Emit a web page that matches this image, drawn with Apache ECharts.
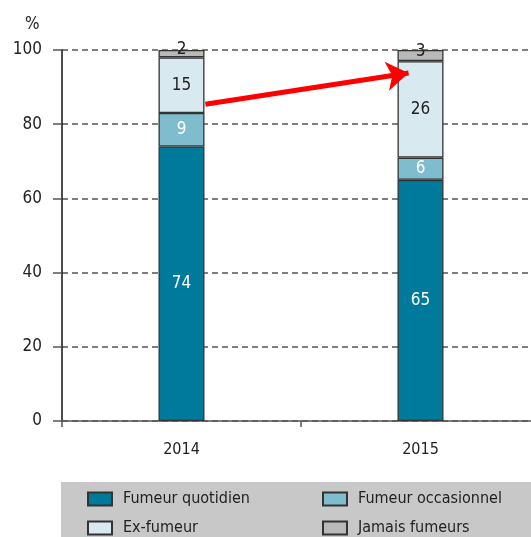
<!DOCTYPE html>
<html>
<head>
<meta charset="utf-8">
<script src="https://cdn.jsdelivr.net/npm/echarts@6/dist/echarts.min.js"></script>
<style>
  html, body { margin: 0; padding: 0; background: #fff; }
  #main { width: 531px; height: 537px; }
</style>
</head>
<body>
<div id="main"></div>
<script>
// données
var years = ['2014', '2015'];
var quotidien = [74, 65];
var occasionnel = [9, 6];
var exFumeur = [15, 26];
var jamais = [2, 3];
var yTicks = [0, 20, 40, 60, 80, 100];

var FONT = '"DejaVu Sans Condensed", "Liberation Sans Narrow", sans-serif';
var chart = echarts.init(document.getElementById('main'));

function seg(name, data, color, labelColor, offY) {
  return {
    name: name,
    type: 'bar',
    stack: 'total',
    barWidth: 46,
    data: data,
    itemStyle: { color: color, borderColor: '#333', borderWidth: 1.3 },
    label: {
      show: true,
      position: 'inside',
      offset: [0, offY || 0],
      color: labelColor,
      fontFamily: FONT,
      fontSize: 17
    },
    emphasis: { disabled: true }
  };
}

// une légende par entrée, pour garder la grille 2x2
function legendItem(left, top, name) {
  return {
    left: left, top: top, padding: 0,
    icon: 'rect',
    itemWidth: 24, itemHeight: 13,
    data: [name],
    textStyle: { fontFamily: FONT, fontSize: 16, color: '#222', padding: [0, 0, 0, 6] }
  };
}

var option = {
  animation: false,
  textStyle: { fontFamily: FONT },
  title: {
    text: '%', left: 20, top: 11,
    textStyle: { fontFamily: FONT, fontSize: 17, fontWeight: 'normal', color: '#222' }
  },
  graphic: [{
    type: 'rect',
    left: 61, top: 482,
    shape: { width: 480, height: 60 },
    style: { fill: '#c8c8c8' },
    z: -1
  }],
  grid: { left: 62, top: 50, bottom: 116, width: 478, outerBoundsMode: 'none' },
  legend: [
    legendItem(87, 491, 'Fumeur quotidien'),
    legendItem(322, 491, 'Fumeur occasionnel'),
    legendItem(87, 520, 'Ex-fumeur'),
    legendItem(322, 520, 'Jamais fumeurs')
  ],
  xAxis: [{
    type: 'category',
    data: years,
    axisLine: { lineStyle: { color: '#555', width: 1.5 } },
    axisTick: { show: true, length: 6, lineStyle: { color: '#555', width: 1.5 } },
    axisLabel: { color: '#222', fontSize: 16, margin: 21, fontFamily: FONT }
  }, {
    type: 'value', min: -0.5, max: 1.5, show: false
  }],
  yAxis: {
    type: 'value',
    min: 0, max: 100, interval: 20,
    axisLine: { show: true, onZero: false, lineStyle: { color: '#111', width: 1.5 } },
    axisTick: { show: true, length: 9, lineStyle: { color: '#555', width: 1.5 } },
    axisLabel: {
      color: '#222', fontSize: 17, margin: 20, fontFamily: FONT,
      formatter: function (v) { return yTicks.indexOf(v) >= 0 ? String(v) : ''; }
    },
    splitLine: { show: true, lineStyle: { color: '#555', type: [6, 4], width: 1.5 } }
  },
  series: [
    seg('Fumeur quotidien', quotidien, '#007a9b', '#fff'),
    seg('Fumeur occasionnel', occasionnel, '#7fbccd', '#fff'),
    seg('Ex-fumeur', exFumeur, '#d9e9f0', '#222'),
    seg('Jamais fumeurs', jamais, '#b9b9b9', '#222', -4),
    {
      type: 'lines',
      coordinateSystem: 'cartesian2d',
      xAxisIndex: 1,
      yAxisIndex: 0,
      symbol: ['none', 'arrow'],
      symbolSize: [22, 22],
      lineStyle: { color: '#ff0000', width: 5, opacity: 1 },
      data: [{ coords: [[0.1, 85.4], [0.95, 93.8]] }],
      z: 5
    }
  ]
};
chart.setOption(option);
</script>
</body>
</html>
